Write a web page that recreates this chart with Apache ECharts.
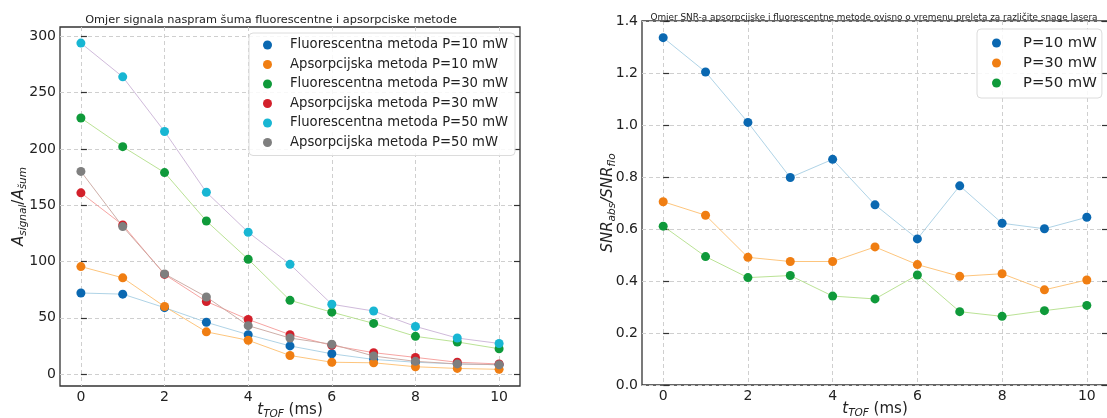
<!DOCTYPE html>
<html>
<head>
<meta charset="utf-8">
<script src="https://cdn.jsdelivr.net/npm/echarts@6/dist/echarts.min.js"></script>
<style>
html,body{margin:0;padding:0;background:#fff;}
#c{width:1107px;height:418px;}
</style>
</head>
<body>
<div id="c"></div>
<script>
// ---- data ----
const tof = [0,1,2,3,4,5,6,7,8,9,10];
const xTicks = [0,2,4,6,8,10];
const leftYTicks = [0,50,100,150,200,250,300];
const rightYTicks = [0,0.2,0.4,0.6,0.8,1.0,1.2,1.4];

const leftNames = [
  'Fluorescentna metoda P=10 mW',
  'Apsorpcijska metoda P=10 mW',
  'Fluorescentna metoda P=30 mW',
  'Apsorpcijska metoda P=30 mW',
  'Fluorescentna metoda P=50 mW',
  'Apsorpcijska metoda P=50 mW'
];
const fluo10 = [72, 71, 59, 46, 35, 25, 18, 13, 10.5, 9, 8.3];
const abs10  = [95.5, 85.5, 60, 37.5, 30, 16.5, 10.5, 10, 6.5, 5, 4.2];
const fluo30 = [227.5, 202, 179, 136, 102, 65.5, 55, 45, 33.5, 28.5, 22.5];
const abs30  = [161, 132.5, 88.5, 64.5, 48.5, 35, 25.5, 19, 14.8, 10.5, 9];
const fluo50 = [294, 264, 215.5, 161.5, 126, 97.5, 62, 56, 42.3, 32, 27.2];
const abs50  = [180, 131, 89, 68.5, 43, 32, 26.5, 16, 11.3, 9, 8.3];

const rightNames = ['P=10 mW', 'P=30 mW', 'P=50 mW'];
const snr10 = [1.336, 1.204, 1.01, 0.798, 0.868, 0.693, 0.562, 0.766, 0.622, 0.601, 0.645];
const snr30 = [0.705, 0.653, 0.491, 0.475, 0.475, 0.531, 0.463, 0.418, 0.428, 0.366, 0.404];
const snr50 = [0.611, 0.494, 0.413, 0.421, 0.342, 0.331, 0.423, 0.282, 0.264, 0.286, 0.306];

// ---- styling ----
const markerColors = ['#0a68b1', '#f07e12', '#0f9a3a', '#d3202b', '#18b6d3', '#7f7f7f'];
const lineColors   = ['#a6cee3', '#fdbf6f', '#b2df8a', '#f59a98', '#cab2d6', '#c9a59e'];
const FONT = 'DejaVu Sans';

function pairs(ys){ return tof.map((x,i)=>[x, ys[i]]); }

const leftData = [fluo10, abs10, fluo30, abs30, fluo50, abs50];
const rightData = [snr10, snr30, snr50];

const series = [];
leftData.forEach((d,i)=>{
  series.push({type:'line', name:'_l'+i, xAxisIndex:0, yAxisIndex:0, data:pairs(d),
    showSymbol:false, silent:true, lineStyle:{color:lineColors[i], width:1, opacity:0.9}, z:2});
});
leftData.forEach((d,i)=>{
  series.push({type:'scatter', name:leftNames[i], xAxisIndex:0, yAxisIndex:0, data:pairs(d),
    symbolSize:9, itemStyle:{color:markerColors[i], opacity:1}, z:3});
});
rightData.forEach((d,i)=>{
  series.push({type:'line', name:'_r'+i, xAxisIndex:1, yAxisIndex:2, data:pairs(d),
    showSymbol:false, silent:true, lineStyle:{color:lineColors[i], width:1, opacity:0.9}, z:2});
});
rightData.forEach((d,i)=>{
  series.push({type:'scatter', name:rightNames[i], xAxisIndex:1, yAxisIndex:2, data:pairs(d),
    symbolSize:9, itemStyle:{color:markerColors[i], opacity:1}, z:3});
});

const splitLine = {show:true, lineStyle:{color:'#cfcfcf', type:[4,3], width:1}};
const subRich = {
  i:{fontFamily:FONT, fontStyle:'italic', fontSize:15, color:'#222', lineHeight:20},
  s:{fontFamily:FONT, fontStyle:'italic', fontSize:10.5, color:'#222', lineHeight:8, verticalAlign:'bottom'},
  n:{fontFamily:FONT, fontSize:15, color:'#222', lineHeight:20}
};

function xAxis(gi){
  return {type:'value', gridIndex:gi, min:-0.5, max:10.5,
    name:'{i|t}{s|TOF}{n| (ms)}', nameLocation:'middle', nameGap:14, nameMoveOverlap:false,
    nameTextStyle:{rich:subRich},
    axisLine:{show:false},
    axisTick:{show:false, customValues:xTicks},
    axisLabel:{customValues:xTicks, fontFamily:FONT, fontSize:14, color:'#222', margin:4},
    splitLine:splitLine};
}

const option = {
  animation:false,
  backgroundColor:'#fff',
  title:[
    {text:'Omjer signala naspram šuma fluorescentne i apsorpciske metode', left:266, textAlign:'center', top:10,
      textStyle:{fontFamily:FONT, fontSize:11.3, fontWeight:'normal', color:'#222'}},
    {text:'Omjer SNR-a apsorpcijske i fluorescentne metode ovisno o vremenu preleta za različite snage lasera', left:869, textAlign:'center', top:8,
      textStyle:{fontFamily:FONT, fontSize:8.9, fontWeight:'normal', color:'#222'}}
  ],
  grid:[
    {left:60, top:27, width:460, height:359, show:true, borderColor:'#333', borderWidth:1.3, backgroundColor:'transparent', outerBoundsMode:'none', containLabel:false},
    {left:642, top:21, width:466, height:364, show:true, borderColor:'#333', borderWidth:1.3, backgroundColor:'transparent', outerBoundsMode:'none', containLabel:false}
  ],
  xAxis:[xAxis(0), xAxis(1)],
  yAxis:[
    {type:'value', gridIndex:0, min:-10.6, max:308.3, position:'left',
      name:'{i|A}{s|signal}{n|/}{i|A}{s|šum}', nameLocation:'middle', nameGap:31, nameRotate:90, nameMoveOverlap:false,
      nameTextStyle:{rich:subRich},
      axisLine:{show:false},
      axisTick:{show:true, inside:true, length:6, customValues:leftYTicks, lineStyle:{color:'#333', width:1.2}},
      axisLabel:{customValues:leftYTicks, fontFamily:FONT, fontSize:14, color:'#222', margin:4},
      splitLine:splitLine},
    {type:'value', gridIndex:0, min:-10.6, max:308.3, position:'right',
      axisLine:{show:false},
      axisTick:{show:true, inside:true, length:6, customValues:leftYTicks, lineStyle:{color:'#333', width:1.2}},
      axisLabel:{show:false, customValues:leftYTicks},
      splitLine:{show:false}},
    {type:'value', gridIndex:1, min:0, max:1.4, interval:0.2, position:'left',
      name:'{i|SNR}{s|abs}{i|/SNR}{s|flo}', nameLocation:'middle', nameGap:24, nameRotate:90, nameMoveOverlap:false,
      nameTextStyle:{rich:subRich},
      axisLine:{show:false},
      axisTick:{show:true, inside:true, length:6, lineStyle:{color:'#333', width:1.2}},
      axisLabel:{fontFamily:FONT, fontSize:14, color:'#222', margin:4, formatter:v=>v.toFixed(1)},
      splitLine:splitLine},
    {type:'value', gridIndex:1, min:0, max:1.4, interval:0.2, position:'right',
      axisLine:{show:false},
      axisTick:{show:true, inside:true, length:6, lineStyle:{color:'#333', width:1.2}},
      axisLabel:{show:false},
      splitLine:{show:false}}
  ],
  legend:[
    {data:leftNames, orient:'vertical', left:249, top:33, itemWidth:9, itemHeight:9, itemGap:3.5,
      icon:'circle', padding:[4,7,5,14],
      backgroundColor:'rgba(255,255,255,0.85)', borderColor:'#dcdcdc', borderWidth:1, borderRadius:4,
      textStyle:{fontFamily:FONT, fontSize:13.2, color:'#222', lineHeight:16, padding:[0,0,0,13]}, selectedMode:false},
    {data:rightNames, orient:'vertical', left:977, top:29, itemWidth:9, itemHeight:9, itemGap:2,
      icon:'circle', padding:[5,5,6,15],
      backgroundColor:'rgba(255,255,255,0.85)', borderColor:'#dcdcdc', borderWidth:1, borderRadius:4,
      textStyle:{fontFamily:FONT, fontSize:14.8, color:'#222', lineHeight:18, padding:[0,0,0,17]}, selectedMode:false}
  ],
  series:series
};

const chart = echarts.init(document.getElementById('c'), null, {renderer:'canvas'});
chart.setOption(option);
</script>
</body>
</html>
